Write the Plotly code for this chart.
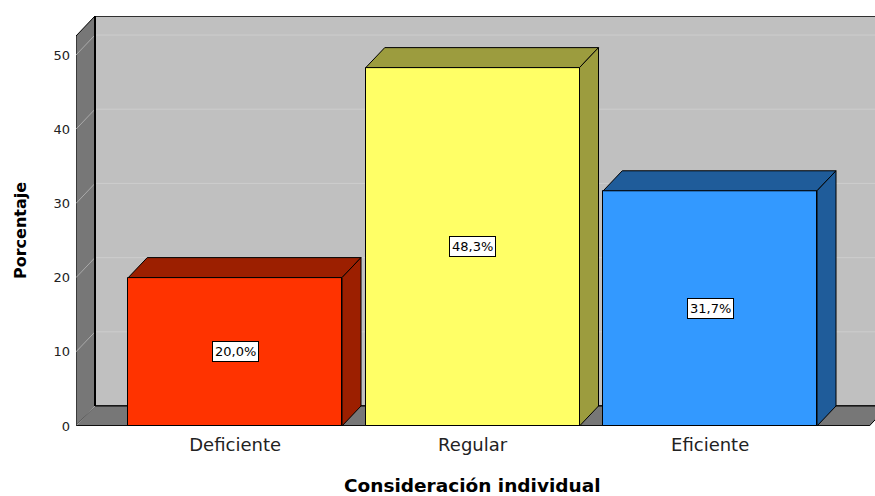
import plotly.graph_objects as go

# ---- data ----
categories = ["Deficiente", "Regular", "Eficiente"]
percentages = [20.0, 48.3, 31.7]
y_ticks = [0, 10, 20, 30, 40, 50]
x_title = "Consideración individual"
y_title = "Porcentaje"

# ---- styling ----
front_colors = ["#ff3300", "#ffff66", "#3399ff"]
dark_colors = ["#9c1f00", "#9c9c3e", "#1f5c9a"]
FONT = "DejaVu Sans"
W, H = 875, 496
ML, MR, MT, MB = 76, 0, 16, 70
PW, PH = W - ML - MR, H - MT - MB
PX_PER_CAT = 237.5
PX_PER_UNIT = 7.42
X0 = -0.67
XR = [X0, X0 + PW / PX_PER_CAT]
YR = [0, PH / PX_PER_UNIT]
DXu = 19 / PX_PER_CAT      # depth offset in data units
DYu = 20 / PX_PER_UNIT
WALL_TOP = YR[1] - DYu
XL, XRT = X0, (len(categories) - 1) - X0
BW = 0.9

fig = go.Figure()

shapes = []
# back wall
shapes.append(dict(type="rect", xref="x", yref="y", x0=XL + DXu, x1=XR[1] + 0.2,
                   y0=DYu, y1=WALL_TOP + DYu, fillcolor="#c0c0c0",
                   line=dict(color="black", width=1.5), layer="below"))
# gridlines on back wall
for v in y_ticks:
    if v > 0:
        shapes.append(dict(type="line", xref="x", yref="y", x0=XL + DXu, x1=XR[1] + 0.2,
                           y0=v + DYu, y1=v + DYu, line=dict(color="#cdcdcd", width=1),
                           layer="below"))
# left wall
shapes.append(dict(type="path", xref="x", yref="y",
                   path=f"M {XL},{WALL_TOP} L {XL+DXu},{WALL_TOP+DYu} L {XL+DXu},{DYu} L {XL},0 Z",
                   fillcolor="#777777", line=dict(color="black", width=1), layer="below"))
# floor
shapes.append(dict(type="path", xref="x", yref="y",
                   path=f"M {XL},0 L {XL+DXu},{DYu} L {XRT+DXu},{DYu} L {XRT},0 Z",
                   fillcolor="#777777", line=dict(color="black", width=1), layer="below"))
# slanted gridlines on left wall / floor
for v in y_ticks:
    shapes.append(dict(type="line", xref="x", yref="y", x0=XL, x1=XL + DXu,
                       y0=v, y1=v + DYu, line=dict(color="#aaaaaa", width=1), layer="below"))
# back wall left edge and front floor edge
shapes.append(dict(type="line", xref="x", yref="y", x0=XL + DXu, x1=XL + DXu, y0=DYu,
                   y1=WALL_TOP + DYu, line=dict(color="black", width=2), layer="below"))
shapes.append(dict(type="line", xref="x", yref="y", x0=XL, x1=XRT, y0=0, y1=0,
                   line=dict(color="black", width=1.5), layer="below"))

# bar front faces
xs = list(range(len(categories)))
fig.add_trace(go.Bar(x=xs, y=percentages, width=BW, marker=dict(color=front_colors,
                     line=dict(color="black", width=1)), hoverinfo="skip", showlegend=False))

# 3D top and side faces
for i, v in enumerate(percentages):
    l, r = i - BW / 2, i + BW / 2
    fig.add_trace(go.Scatter(x=[l, l + DXu, r + DXu, r, l], y=[v, v + DYu, v + DYu, v, v],
                             fill="toself", fillcolor=dark_colors[i], mode="lines",
                             line=dict(color="black", width=1), hoverinfo="skip", showlegend=False))
    fig.add_trace(go.Scatter(x=[r, r + DXu, r + DXu, r, r], y=[0, DYu, v + DYu, v, 0],
                             fill="toself", fillcolor=dark_colors[i], mode="lines",
                             line=dict(color="black", width=1), hoverinfo="skip", showlegend=False))

annotations = []
for i, v in enumerate(percentages):
    annotations.append(dict(x=i, y=v / 2, xref="x", yref="y",
                            text=f"{v:.1f}".replace(".", ",") + "%", showarrow=False,
                            bgcolor="white", bordercolor="black", borderwidth=1, borderpad=2,
                            font=dict(family=FONT, size=13, color="black")))
annotations.append(dict(xref="paper", yref="paper", x=(472 - ML) / PW, y=(426 - 486) / PH,
                        text=f"<b>{x_title}</b>", showarrow=False, xanchor="center", yanchor="middle",
                        font=dict(family=FONT, size=18.5, color="black")))
annotations.append(dict(xref="paper", yref="paper", x=(20 - ML) / PW, y=(426 - 231) / PH,
                        text=f"<b>{y_title}</b>", showarrow=False, textangle=-90,
                        xanchor="center", yanchor="middle",
                        font=dict(family=FONT, size=16, color="black")))

fig.update_layout(
    width=W, height=H, margin=dict(l=ML, r=MR, t=MT, b=MB, pad=0),
    paper_bgcolor="white", plot_bgcolor="white",
    shapes=shapes, annotations=annotations, bargap=0,
    xaxis=dict(range=XR, tickvals=xs, ticktext=categories, showgrid=False, zeroline=False,
               showline=False, ticks="", ticklabelstandoff=6,
               tickfont=dict(family=FONT, size=18, color="#222222"), fixedrange=True),
    yaxis=dict(range=YR, tickvals=y_ticks, showgrid=False, zeroline=False, showline=False,
               ticks="", ticklabelstandoff=5, tickfont=dict(family=FONT, size=13, color="#222222"),
               fixedrange=True),
)

fig.write_html("out.html")
